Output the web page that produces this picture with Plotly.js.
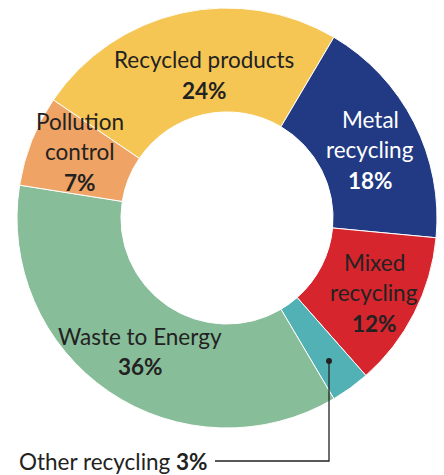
<!DOCTYPE html>
<html>
<head>
<meta charset="utf-8">
<script src="https://cdn.plot.ly/plotly-3.0.1.min.js"></script>
<style>html,body{margin:0;padding:0;background:#fff;}#chart{width:444px;height:475px;}</style>
</head>
<body>
<div id="chart"></div>
<script>
var categories = ["Recycled products", "Metal recycling", "Mixed recycling", "Other recycling", "Waste to Energy", "Pollution control"];
var values = [24, 18, 12, 3, 36, 7];
var colors = ["#F6C654", "#213A83", "#D7252E", "#52B1B4", "#88BD99", "#EFA364"];
var labelLines = [["Recycled products"], ["Metal", "recycling"], ["Mixed", "recycling"], [], ["Waste to Energy"], ["Pollution", "control"]];

var W = 444, H = 475;
var FONT = "Lato, 'Open Sans', sans-serif";
var FS = 22.5;
function px(x) { return x / W; }
function py(y) { return 1 - y / H; }

// label anchor (centre of first line) and text colour, per slice
var labelPos = [[204, 60, "#222"], [370, 119, "#fff"], [374, 262, "#222"], null, [140, 336, "#222"], [80, 121, "#222"]];
var LINE = 30.5;

var annotations = [];
for (var i = 0; i < categories.length; i++) {
  var p = labelPos[i];
  if (!p) continue;
  var lines = labelLines[i];
  for (var j = 0; j < lines.length; j++) {
    annotations.push({xref: "paper", yref: "paper", x: px(p[0]), y: py(p[1] + j * LINE), text: lines[j],
      showarrow: false, xanchor: "center", yanchor: "middle", font: {family: FONT, size: FS, color: p[2]}});
  }
  annotations.push({xref: "paper", yref: "paper", x: px(p[0]), y: py(p[1] + lines.length * LINE), text: "<b>" + values[i] + "%</b>",
    showarrow: false, xanchor: "center", yanchor: "middle", font: {family: FONT, size: FS, color: p[2]}});
}
// Other recycling callout
annotations.push({xref: "paper", yref: "paper", x: px(17), y: py(461), text: categories[3] + " <b>" + values[3] + "%</b>",
  showarrow: false, xanchor: "left", yanchor: "middle", font: {family: FONT, size: FS, color: "#222"}});

var cx = 227, cy = 218, r = 210;
var data = [{
  type: "pie",
  labels: categories,
  values: values,
  sort: false,
  direction: "clockwise",
  rotation: -55.8,
  hole: 0.505,
  marker: {colors: colors, line: {color: "#fff", width: 1}},
  textinfo: "none",
  hoverinfo: "label+percent",
  domain: {x: [px(cx - r), px(cx + r)], y: [py(cy + r), py(cy - r)]},
  showlegend: false
}];

var layout = {
  width: W, height: H,
  margin: {l: 0, r: 0, t: 0, b: 0},
  paper_bgcolor: "#fff",
  showlegend: false,
  annotations: annotations,
  shapes: [
    {type: "path", xref: "paper", yref: "paper",
     path: "M " + px(329) + "," + py(361) + " L " + px(329) + "," + py(461) + " L " + px(215) + "," + py(461),
     line: {color: "#222", width: 1.3}},
    {type: "circle", xref: "paper", yref: "paper", x0: px(326), x1: px(332), y0: py(364), y1: py(358),
     fillcolor: "#222", line: {color: "#222", width: 0}}
  ]
};

Plotly.newPlot("chart", data, layout, {displayModeBar: false, staticPlot: true});
</script>
</body>
</html>
